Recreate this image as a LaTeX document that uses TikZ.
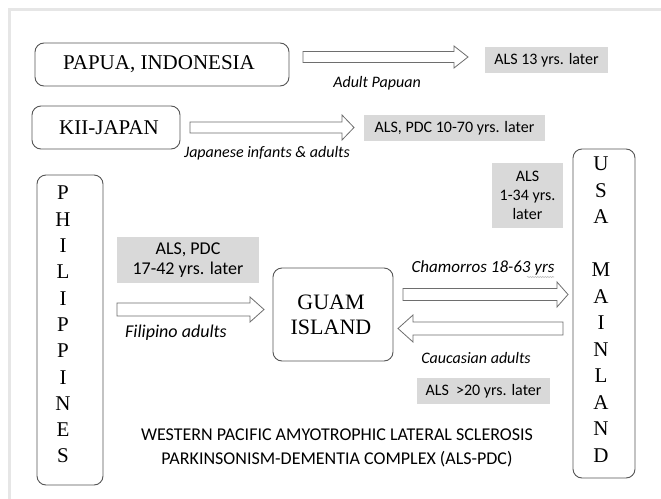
\documentclass[tikz,border=0pt]{standalone}
\usepackage{fontspec}
\setmainfont{Liberation Serif}
\newfontfamily\calib{Carlito}
\usetikzlibrary{decorations.pathmorphing}
\definecolor{boxgray}{HTML}{D9D9D9}
\definecolor{framegray}{HTML}{E6E6E6}
\definecolor{edge}{HTML}{555555}
\definecolor{arrowedge}{HTML}{6E6E6E}
\newcommand\rarrowshape[6]{% x1 x2 cy shafthalf headhalf headlen
  \draw[barrow] (#1,#3-#4) -- (#2-#6,#3-#4) -- (#2-#6,#3-#5) -- (#2,#3) -- (#2-#6,#3+#5) -- (#2-#6,#3+#4) -- (#1,#3+#4) -- cycle;}
\newcommand\larrowshape[6]{% x1(tip) x2 cy shafthalf headhalf headlen
  \draw[barrow] (#2,#3-#4) -- (#1+#6,#3-#4) -- (#1+#6,#3-#5) -- (#1,#3) -- (#1+#6,#3+#5) -- (#1+#6,#3+#4) -- (#2,#3+#4) -- cycle;}
\begin{document}
\begin{tikzpicture}[x=1pt,y=-1pt,
  place/.style={draw=edge, line width=0.9pt, rounded corners=9pt, fill=white, inner sep=0pt},
  serif/.style={font=\fontsize{21}{25}\selectfont},
  gbox/.style={fill=boxgray, inner sep=0pt},
  stext/.style={font=\calib\fontsize{16}{19.5}\selectfont, align=center, inner sep=0pt},
  itext/.style={font=\calib\itshape\fontsize{16}{19.5}\selectfont, inner sep=0pt},
  barrow/.style={draw=arrowedge, line width=0.8pt, fill=white, line join=miter}]
\useasboundingbox (0,0) rectangle (661,498);
\fill[white] (0,0) rectangle (661,498);
% frame
\draw[framegray, line width=3pt] (9.5,500) -- (9.5,9.5) -- (663,9.5);

% place boxes
\node[place, minimum width=254pt, minimum height=43pt] (papua) at (162,64.5) {};
\node[serif, inner sep=0pt] (papuat) at (159,64.5) {PAPUA, INDONESIA};
\node[place, minimum width=148pt, minimum height=43pt] (kii) at (106,127.5) {};
\node[serif, inner sep=0pt] (kiit) at (109,127.5) {KII-JAPAN};
\node[place, minimum width=66pt, minimum height=310pt] (phil) at (70,330) {};
\node[font=\fontsize{21}{26.3}\selectfont, align=center, inner sep=0pt, anchor=north] (philt) at (63,186)
  {P\\H\\I\\L\\I\\P\\P\\I\\N\\E\\S};
\node[place, minimum width=120pt, minimum height=93pt] (guam) at (333,314.5) {};
\node[font=\fontsize{22}{25}\selectfont, align=center, inner sep=0pt] (guamt) at (331,314.5) {GUAM\\ISLAND};
\node[place, minimum width=62pt, minimum height=329pt] (usa) at (604,313.5) {};
\node[font=\fontsize{21}{26.5}\selectfont, align=center, inner sep=0pt, anchor=north] (usat) at (601,157)
  {U\\S\\A\\[26.5pt]M\\A\\I\\N\\L\\A\\N\\D};

% gray outcome boxes
\node[gbox, minimum width=123pt, minimum height=26pt] (o1) at (546.5,60) {};
\node[stext] at (o1) {ALS 13 yrs. later};
\node[gbox, minimum width=181pt, minimum height=26pt] (o2) at (454.5,128) {};
\node[stext] at (o2) {ALS, PDC 10-70 yrs. later};
\node[gbox, minimum width=71pt, minimum height=65pt] (o3) at (527.5,195.5) {};
\node[stext, font=\calib\fontsize{16}{19}\selectfont] at (o3) {ALS\\1-34 yrs.\\later};
\node[gbox, minimum width=142pt, minimum height=46pt] (o4) at (188,260) {};
\node[stext, font=\calib\fontsize{18}{20}\selectfont] at (o4) {ALS, PDC\\17-42 yrs. later};
\node[gbox, minimum width=133pt, minimum height=26pt] (o5) at (483.5,391) {};
\node[stext] at (o5) {ALS\ \ {>}20 yrs. later};

% block arrows
\rarrowshape{303}{468}{57}{5.5}{11}{14}
\rarrowshape{190}{354}{127.5}{5.5}{12.5}{12}
\rarrowshape{117}{264}{309.5}{6.5}{12.5}{14}
\rarrowshape{403}{568}{294.5}{6}{12.5}{11}
\larrowshape{398}{563}{328.5}{6.5}{13.5}{15}

% arrow labels
\node[itext] (l1) at (377,83) {Adult Papuan};
\node[itext] (l2) at (267,153) {Japanese infants \& adults};
\node[itext, font=\calib\itshape\fontsize{18}{20}\selectfont] (l3) at (176,333) {Filipino adults};
\node[itext, font=\calib\itshape\fontsize{17}{20}\selectfont] (l4) at (483,268) {Chamorros 18-63 yrs};
\draw[gray!60, line width=0.5pt, decorate, decoration={snake, amplitude=0.6pt, segment length=2.5pt}] (527,277) -- (554,277);
\node[itext] (l5) at (476,358) {Caucasian adults};

% title
\node[stext, font=\calib\fontsize{18}{24}\selectfont] (title) at (337,448)
  {WESTERN PACIFIC AMYOTROPHIC LATERAL SCLEROSIS\\PARKINSONISM-DEMENTIA COMPLEX (ALS-PDC)};
\end{tikzpicture}
\end{document}
